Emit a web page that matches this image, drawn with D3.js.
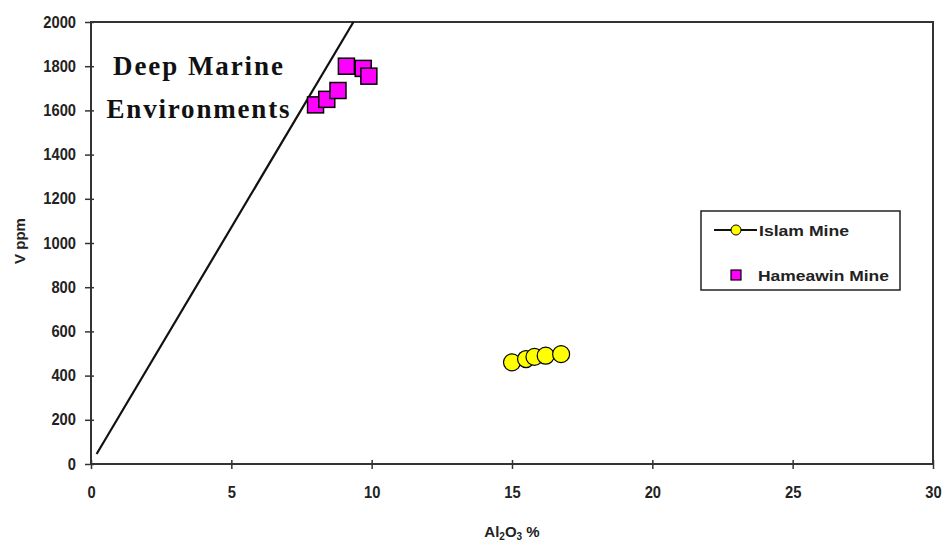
<!DOCTYPE html>
<html>
<head>
<meta charset="utf-8" />
<title>V vs Al2O3</title>
<script src="https://d3js.org/d3.v7.min.js"></script>
<style>
  body { margin: 0; background: #fff; }
  .tick text { font-family: "Liberation Sans", Arial, sans-serif; font-weight: bold; font-size: 16px; fill: #222; }
  .tick line { stroke: #333; stroke-width: 1.5; }
</style>
</head>
<body>
<script>
// data
var islamAl = [15.0, 15.5, 15.8, 16.2, 16.75];
var islamV = [460, 475, 485, 490, 497];
var hameAl = [8.0, 8.4, 8.8, 9.1, 9.7, 9.9];
var hameV = [1625, 1650, 1690, 1800, 1790, 1755];
var lineAl = [0.2, 9.35];
var lineV = [45, 2000];
var xTicks = [0, 5, 10, 15, 20, 25, 30];
var yTicks = [0, 200, 400, 600, 800, 1000, 1200, 1400, 1600, 1800, 2000];

var width = 942, height = 542,
    pLeft = 91, pRight = 933, pTop = 22, pBottom = 464;

var svg = d3.select('body').append('svg')
    .attr('width', width)
    .attr('height', height);

var x = d3.scaleLinear().domain([0, 30]).range([pLeft, pRight]);
var y = d3.scaleLinear().domain([0, 2000]).range([pBottom, pTop]);

// frame
svg.append('rect')
    .attr('x', pLeft).attr('y', pTop)
    .attr('width', pRight - pLeft).attr('height', pBottom - pTop)
    .attr('fill', 'none').attr('stroke', '#333').attr('stroke-width', 2);

// x axis: labels + outer ticks, then inner ticks
var ax = svg.append('g')
    .attr('transform', `translate(0,${pBottom})`)
    .call(d3.axisBottom(x).tickValues(xTicks).tickFormat(d3.format('d')).tickSize(5).tickPadding(18));
ax.select('.domain').remove();
var ax2 = svg.append('g')
    .attr('transform', `translate(0,${pBottom})`)
    .call(d3.axisTop(x).tickValues(xTicks).tickFormat('').tickSize(4));
ax2.select('.domain').remove();

var ay = svg.append('g')
    .attr('transform', `translate(${pLeft},0)`)
    .call(d3.axisLeft(y).tickValues(yTicks).tickFormat(d3.format('d')).tickSize(6).tickPadding(9));
ay.select('.domain').remove();
var ay2 = svg.append('g')
    .attr('transform', `translate(${pLeft},0)`)
    .call(d3.axisRight(y).tickValues(yTicks).tickFormat('').tickSize(3));
ay2.select('.domain').remove();

// slightly narrow the tick labels like the original
svg.selectAll('.tick text').each(function () {
    var w = this.getComputedTextLength();
    if (w > 0) d3.select(this).attr('textLength', w * 0.92).attr('lengthAdjust', 'spacingAndGlyphs');
});

// axis titles
svg.append('text')
    .attr('transform', `translate(25,${(pTop + pBottom) / 2 - 2}) rotate(-90)`)
    .attr('text-anchor', 'middle')
    .style('font', 'bold 15px "Liberation Sans", Arial, sans-serif')
    .style('fill', '#222')
    .text('V ppm');

var xt = svg.append('text')
    .attr('x', 512).attr('y', 537)
    .attr('text-anchor', 'middle')
    .style('font', 'bold 15px "Liberation Sans", Arial, sans-serif')
    .style('fill', '#222');
xt.append('tspan').text('Al');
xt.append('tspan').attr('dy', 3).style('font-size', '10px').text('2');
xt.append('tspan').attr('dy', -3).text('O');
xt.append('tspan').attr('dy', 3).style('font-size', '10px').text('3');
xt.append('tspan').attr('dy', -3).text(' %');

// boundary line
var pts = lineAl.map((d, i) => [x(d), y(lineV[i])]);
svg.append('path')
    .attr('d', d3.line()(pts))
    .attr('stroke', '#111').attr('stroke-width', 2.2).attr('fill', 'none');

// annotation
svg.append('text')
    .attr('x', 198).attr('y', 75)
    .attr('text-anchor', 'middle')
    .attr('textLength', 170)
    .style('font', 'bold 27px "Liberation Serif", "Times New Roman", serif')
    .style('fill', '#111')
    .text('Deep Marine');
svg.append('text')
    .attr('x', 198).attr('y', 118)
    .attr('text-anchor', 'middle')
    .attr('textLength', 183)
    .style('font', 'bold 27px "Liberation Serif", "Times New Roman", serif')
    .style('fill', '#111')
    .text('Environments');

// Hameawin squares
var sq = 16;
svg.append('g').selectAll('rect')
    .data(hameAl)
    .enter()
    .append('rect')
    .attr('x', d => x(d) - sq / 2)
    .attr('y', (d, i) => y(hameV[i]) - sq / 2)
    .attr('width', sq).attr('height', sq)
    .attr('fill', '#ff00ff').attr('stroke', '#000').attr('stroke-width', 1.5);

// Islam circles
svg.append('g').selectAll('circle')
    .data(islamAl)
    .enter()
    .append('circle')
    .attr('cx', d => x(d))
    .attr('cy', (d, i) => y(islamV[i]))
    .attr('r', 8.5)
    .attr('fill', '#ffff00').attr('stroke', '#000').attr('stroke-width', 1.2);

// legend
var lg = svg.append('g');
lg.append('rect')
    .attr('x', 701).attr('y', 211).attr('width', 199).attr('height', 79)
    .attr('fill', '#fff').attr('stroke', '#222').attr('stroke-width', 1.5);
lg.append('line')
    .attr('x1', 714).attr('x2', 757).attr('y1', 230).attr('y2', 230)
    .attr('stroke', '#111').attr('stroke-width', 2.2);
lg.append('circle')
    .attr('cx', 736).attr('cy', 230).attr('r', 5)
    .attr('fill', '#ffff00').attr('stroke', '#000').attr('stroke-width', 1);
lg.append('text')
    .attr('x', 759).attr('y', 236)
    .attr('textLength', 90).attr('lengthAdjust', 'spacingAndGlyphs')
    .style('font', 'bold 15px "Liberation Sans", Arial, sans-serif')
    .style('fill', '#222')
    .text('Islam Mine');
lg.append('rect')
    .attr('x', 731).attr('y', 270).attr('width', 10).attr('height', 10)
    .attr('fill', '#ff00ff').attr('stroke', '#000').attr('stroke-width', 1.2);
lg.append('text')
    .attr('x', 758).attr('y', 281)
    .attr('textLength', 131).attr('lengthAdjust', 'spacingAndGlyphs')
    .style('font', 'bold 15px "Liberation Sans", Arial, sans-serif')
    .style('fill', '#222')
    .text('Hameawin Mine');
</script>
</body>
</html>
